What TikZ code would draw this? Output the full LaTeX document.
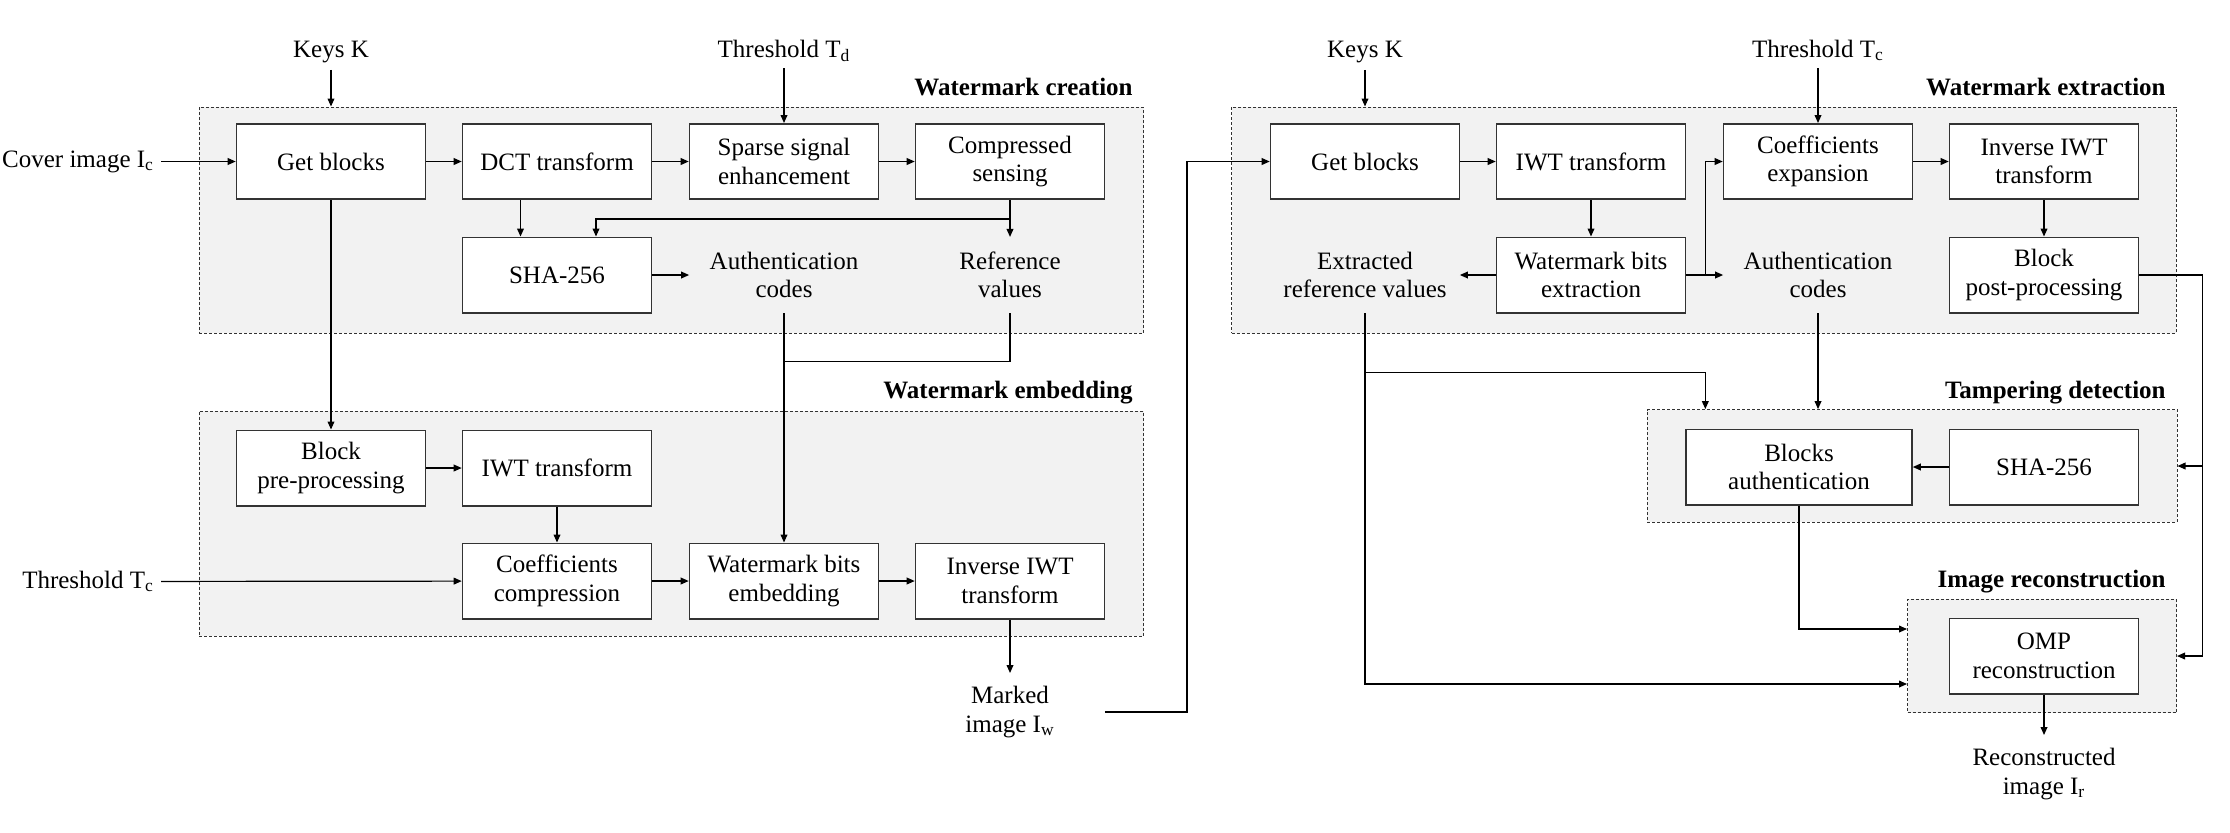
\documentclass[tikz,border=0pt]{standalone}
\usepackage{fontspec}
\setmainfont{Liberation Serif}
\usetikzlibrary{arrows.meta,calc}
\definecolor{grayfill}{HTML}{F2F2F2}
\begin{document}
\begin{tikzpicture}[x=0.5pt,y=-0.5pt,
  every node/.style={font=\fontsize{12.5}{14.2}\selectfont},
  box/.style={draw=black!80,line width=0.8pt,fill=white,minimum width=94.5pt,minimum height=37.7pt,align=center,inner sep=1pt},
  ghost/.style={minimum width=94.5pt,minimum height=37.7pt,align=center,inner sep=0pt},
  outtext/.style={anchor=north,align=center,inner xsep=0pt,inner ysep=6.5pt,minimum width=94.5pt},
  group/.style={draw=black!80,dash pattern=on 1.5pt off 1pt,line width=0.5pt,fill=grayfill,inner sep=0pt},
  title/.style={font=\fontsize{12.5}{14.2}\selectfont\bfseries,anchor=base east,inner sep=0pt},
  arr/.style={-{Triangle[length=4pt,width=3.4pt]},line width=0.6pt},
  ln/.style={line width=0.6pt}
]
\useasboundingbox (0,0) rectangle (2230,832);

% groups
\node[group,minimum width=472.25pt,minimum height=113pt] (WC) at (671.25,220) {};
\node[group,minimum width=472.25pt,minimum height=112.5pt] (WE) at (671.25,523.5) {};
\node[group,minimum width=472.2pt,minimum height=113pt] (EXT) at (1703.8,220) {};
\node[group,minimum width=264.8pt,minimum height=56.45pt] (TD) at (1912.2,466) {};
\node[group,minimum width=134.5pt,minimum height=56.7pt] (IR) at (2042,656) {};

% titles
\node[title] (tWC) at (1133,95) {Watermark creation};
\node[title] (tWE) at (1133,398) {Watermark embedding};
\node[title] (tEXT) at (2166,95) {Watermark extraction};
\node[title] (tTD) at (2166,398) {Tampering detection};
\node[title] (tIR) at (2166,587) {Image reconstruction};

% left part
\node[box] (getL) at (331,161.5) {Get blocks};
\node[box] (dct) at (557,161.5) {DCT transform};
\node[box] (sparse) at (784,161.5) {Sparse signal\\enhancement};
\node[box] (cs) at (1010,161.5) {Compressed\\sensing};
\node[box] (sha) at (557,275) {SHA-256};
\node[ghost] (auth) at (784,275) {Authentication\\codes};
\node[ghost] (ref) at (1010,275) {Reference\\values};
\node[box] (bpre) at (331,468) {Block\\pre-processing};
\node[box] (iwtL) at (557,468) {IWT transform};
\node[box] (coefc) at (557,581) {Coefficients\\compression};
\node[box] (wbe) at (784,581) {Watermark bits\\embedding};
\node[box] (iiwtL) at (1010,581) {Inverse IWT\\transform};
\node[anchor=base] (keysL) at (331,57.3) {Keys K};
\node[anchor=base] (tdL) at (784,57.3) {Threshold T\textsubscript{d}};
\node[anchor=east] (cover) at (161,161.5) {Cover image I\textsubscript{c}};
\node[anchor=east] (tcL) at (161,581.5) {Threshold T\textsubscript{c}};
\node[outtext] (marked) at (1010,673) {Marked\\image I\textsubscript{w}};

% right part
\node[box] (getR) at (1365,161.5) {Get blocks};
\node[box] (iwtR) at (1591,161.5) {IWT transform};
\node[box] (coefe) at (1818,161.5) {Coefficients\\expansion};
\node[box] (iiwtR) at (2044,161.5) {Inverse IWT\\transform};
\node[ghost] (extref) at (1365,275) {Extracted\\reference values};
\node[box] (wbx) at (1591,275) {Watermark bits\\extraction};
\node[ghost] (auth2) at (1818,275) {Authentication\\codes};
\node[box] (bpost) at (2044,275) {Block\\post-processing};
\node[box,minimum width=113pt] (bauth) at (1799,467) {Blocks\\authentication};
\node[box] (sha2) at (2044,467) {SHA-256};
\node[box] (omp) at (2044,656) {OMP\\reconstruction};
\node[anchor=base] (keysR) at (1365,57.3) {Keys K};
\node[anchor=base] (tcR) at (1818,57.3) {Threshold T\textsubscript{c}};
\node[outtext] (recon) at (2044,735) {Reconstructed\\image I\textsubscript{r}};

% helper coordinates
\coordinate (dctx) at ($(dct.south)+(-36.5,0)$);
\coordinate (shax) at ($(sha.north)+(39,0)$);
\coordinate (csj) at ($(cs.south)+(0,19)$);
\coordinate (authj) at ($(auth.south)+(0,48.5)$);
\coordinate (jx) at ($(wbx.east)+(19,0)$);
\coordinate (rj) at ($(bpost.east)+(63,0)$);
\coordinate (exj) at ($(extref.south)+(0,59)$);
\coordinate (irlow) at ($(IR.west)+(0,28)$);
\coordinate (irhigh) at ($(IR.west)+(0,-27)$);

% left connectors
\draw[arr] (keysL) -- (keysL |- WC.north);
\draw[arr] (tdL) -- (sparse);
\draw[arr] (cover) -- (getL);
\draw[arr] (getL) -- (dct);
\draw[arr] (dct) -- (sparse);
\draw[arr] (sparse) -- (cs);
\draw[arr] (dctx) -- (dctx |- sha.north);
\draw[ln] (cs.south) -- (csj);
\draw[arr] (csj) -- (ref.north);
\draw[arr] (csj) -| (shax);
\draw[arr] (sha) -- (auth);
\draw[arr] (auth.south) -- (auth.south |- wbe.north);
\draw[ln] (ref.south) |- (authj);
\draw[arr] (getL) -- (bpre);
\draw[arr] (bpre) -- (iwtL);
\draw[arr] (iwtL) -- (coefc);
\draw[arr] (tcL) -- (coefc);
\draw[arr] (coefc) -- (wbe);
\draw[arr] (wbe) -- (iiwtL);
\draw[arr] (iiwtL) -- (marked);
\draw[arr] (marked.east) -- ++(82,0) |- (getR.west);

% right connectors
\draw[arr] (keysR) -- (keysR |- EXT.north);
\draw[arr] (tcR) -- (coefe);
\draw[arr] (getR) -- (iwtR);
\draw[arr] (iwtR) -- (wbx);
\draw[arr] (wbx) -- (extref);
\draw[arr] (wbx) -- (auth2);
\draw[arr] (jx) |- (coefe.west);
\draw[arr] (coefe) -- (iiwtR);
\draw[arr] (iiwtR) -- (bpost);
\draw[arr] (bpost.east) -- (rj) |- (IR.east);
\draw[arr] (rj |- TD.east) -- (TD.east);
\draw[arr] (extref.south) |- (irlow);
\draw[arr] (exj) -| (jx |- TD.north);
\draw[arr] (auth2.south) -- (auth2.south |- TD.north);
\draw[arr] (sha2) -- (bauth);
\draw[arr] (bauth.south) |- (irhigh);
\draw[arr] (omp) -- (recon);
\end{tikzpicture}
\end{document}
